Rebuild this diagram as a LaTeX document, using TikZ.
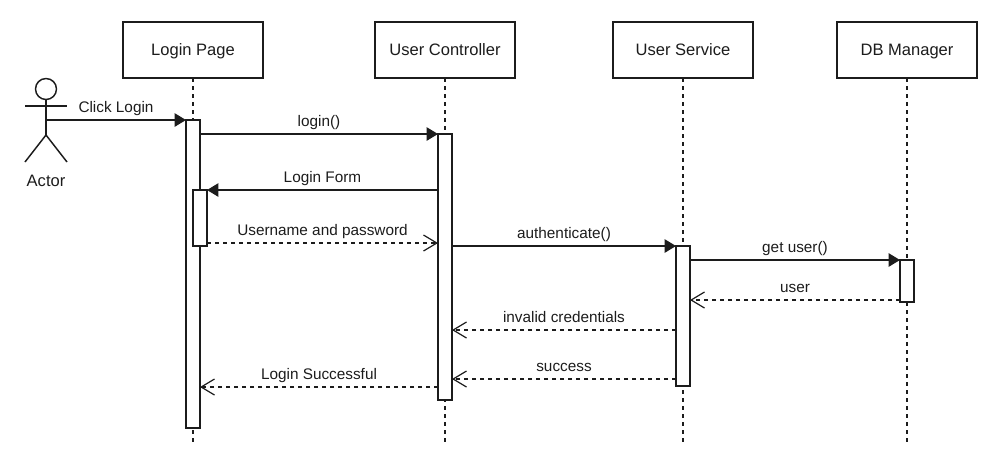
\documentclass[tikz,border=0pt]{standalone}
\usepackage{fontspec}
\setmainfont{Liberation Sans}
\usepackage{xcolor}
\usetikzlibrary{arrows.meta, positioning}
\definecolor{figink}{RGB}{28,28,28}
\tikzstyle{lifebox} = [rectangle, draw=figink, fill=white, line width=1.1pt,
minimum width=105pt, minimum height=42pt, inner sep=0pt, outer sep=0pt,
text height=8.9pt, text depth=0pt,
align=center, font=\fontsize{12.4}{15}\selectfont, text=figink]
\tikzstyle{activebar} = [rectangle, draw=figink, fill=white, line width=1.1pt,
minimum width=10.5pt, inner sep=0pt, outer sep=0pt]
\tikzstyle{lifeline} = [draw=figink, line width=1.1pt, dash pattern=on 3pt off 3pt]
\tikzstyle{callarrow} = [-{Triangle[length=8.5pt,width=10pt]}, line width=1.1pt, draw=figink]
\tikzstyle{backarrow} = [-{Straight Barb[length=10pt,width=12pt]}, line width=0.9pt, draw=figink, dash pattern=on 3pt off 3pt]
\tikzstyle{msglabel} = [midway, above, inner sep=2.75pt, text height=8.5pt, text depth=2.5pt,
font=\fontsize{11.5}{14}\selectfont, text=figink]
\tikzstyle{stick} = [draw=figink, line width=1.1pt]

\begin{document}
\begin{tikzpicture}
    \useasboundingbox (0,0) rectangle (743.25pt,-341.25pt);

    \node (page)    [lifebox] at (144.75pt,-37.5pt) {Login Page};
    \node (control) [lifebox, right=84pt of page]      {User Controller};
    \node (service) [lifebox, right=73.5pt of control] {User Service};
    \node (dbman)   [lifebox, right=63pt of service]   {DB Manager};

    \coordinate (pageend)    at ([yshift=-273pt]page.south);
    \coordinate (controlend) at ([yshift=-273pt]control.south);
    \coordinate (serviceend) at ([yshift=-273pt]service.south);
    \coordinate (dbmanend)   at ([yshift=-273pt]dbman.south);
    \draw[lifeline] (page.south)    -- (pageend);
    \draw[lifeline] (control.south) -- (controlend);
    \draw[lifeline] (service.south) -- (serviceend);
    \draw[lifeline] (dbman.south)   -- (dbmanend);

    \node (pagebar)    [activebar, minimum height=231pt, below=31.5pt of page]      {};
    \node (controlbar) [activebar, minimum height=199.5pt, below=42pt of control]   {};
    \node (formbar)    [activebar, minimum height=42pt, below=84pt of page, xshift=5.25pt] {};
    \node (servicebar) [activebar, minimum height=105pt, below=126pt of service]    {};
    \node (dbmanbar)   [activebar, minimum height=31.5pt, below=136.5pt of dbman]   {};

    % actor
    \node (head) [circle, draw=figink, line width=1.1pt, minimum size=15.75pt, inner sep=0pt, outer sep=0pt] at (34.5pt,-66.75pt) {};
    \coordinate (hip)   at (34.5pt,-101.25pt);
    \coordinate (arml)  at (18.75pt,-79.5pt);
    \coordinate (armr)  at (50.25pt,-79.5pt);
    \coordinate (footl) at (18.75pt,-121.5pt);
    \coordinate (footr) at (50.25pt,-121.5pt);
    \coordinate (waist) at (34.5pt,-90pt);
    \draw[stick] (head) -- (hip);
    \draw[stick] (arml) -- (armr);
    \draw[stick] (footl) -- (hip) -- (footr);
    \node (actor) [font=\fontsize{12.4}{15}\selectfont, text=figink, inner sep=0pt] at (34.5pt,-135.75pt) {Actor};

    % rows that no bar end gives
    \coordinate (namerow)  at (0,-182.25pt);
    \coordinate (userrow)  at (0,-225pt);
    \coordinate (failrow)  at (0,-247.5pt);
    \coordinate (okrow)    at (0,-284.25pt);
    \coordinate (donerow)  at (0,-290.25pt);

    \draw[callarrow] (waist) -- (pagebar.north west) node (clicklabel) [msglabel] {Click Login};
    \draw[callarrow] (pagebar.east |- controlbar.north) -- (controlbar.north west) node (loginlabel) [msglabel] {login()};
    \draw[callarrow] (controlbar.west |- formbar.north) -- (formbar.north east) node (formlabel) [msglabel] {Login Form};
    \draw[backarrow] (formbar.east |- namerow) -- (controlbar.west |- namerow) node (namelabel) [msglabel] {Username and password};
    \draw[callarrow] (controlbar.east |- servicebar.north) -- (servicebar.north west) node (authlabel) [msglabel] {authenticate()};
    \draw[callarrow] (servicebar.east |- dbmanbar.north) -- (dbmanbar.north west) node (getlabel) [msglabel] {get user()};
    \draw[backarrow] (dbmanbar.west |- userrow) -- (servicebar.east |- userrow) node (userlabel) [msglabel] {user};
    \draw[backarrow] (servicebar.west |- failrow) -- (controlbar.east |- failrow) node (faillabel) [msglabel] {invalid credentials};
    \draw[backarrow] (servicebar.west |- okrow) -- (controlbar.east |- okrow) node (oklabel) [msglabel] {success};
    \draw[backarrow] (controlbar.west |- donerow) -- (pagebar.east |- donerow) node (donelabel) [msglabel] {Login Successful};
\end{tikzpicture}
\end{document}
